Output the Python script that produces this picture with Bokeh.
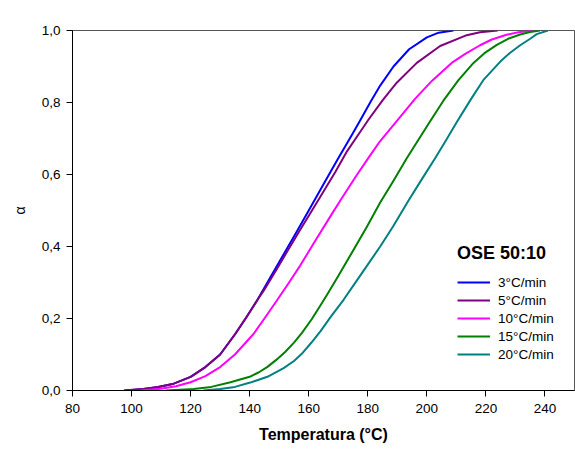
from bokeh.plotting import figure
from bokeh.models import Legend, LegendItem, FixedTicker, Range1d
from bokeh.embed import file_html
from bokeh.resources import INLINE

FONT = "Liberation Sans"

# Conversion degree (alpha) versus temperature for each heating rate
rate_labels = ["3°C/min", "5°C/min", "10°C/min", "15°C/min", "20°C/min"]
rate_colors = ["#0000ff", "#800080", "#ff00ff", "#008000", "#008080"]

temp_3 = [97.5, 104, 109, 114.3, 120, 125, 130, 135.1, 139, 142.5, 146, 150, 155, 160,
          165, 170, 174.6, 177.4, 181, 184.2, 188.7, 194, 200, 204, 209]
alpha_3 = [0.0, 0.004, 0.01, 0.019, 0.038, 0.065, 0.1, 0.157, 0.205, 0.25, 0.3, 0.357, 0.428, 0.5,
           0.573, 0.645, 0.71, 0.75, 0.803, 0.847, 0.9, 0.948, 0.981, 0.994, 1.0]

temp_5 = [97.5, 104, 109, 114.3, 120, 125, 130, 135.1, 139, 142.5, 144.8, 149, 153, 157, 161.1,
          165, 169, 173, 177.4, 180.2, 185, 189.8, 196.6, 204.5, 213.5, 218, 224]
alpha_5 = [0.0, 0.004, 0.01, 0.019, 0.038, 0.065, 0.1, 0.157, 0.205, 0.25, 0.278, 0.335, 0.39, 0.445, 0.5,
           0.553, 0.607, 0.665, 0.718, 0.752, 0.806, 0.855, 0.91, 0.957, 0.987, 0.995, 1.0]

temp_10 = [103, 109.8, 115, 120, 125, 130, 135, 141.3, 145, 149.2, 153, 157.1, 162, 167.8, 170.7,
           176, 180.8, 184.2, 190.7, 196, 201.7, 208.4, 213, 218, 222, 227, 231, 236]
alpha_10 = [0.0, 0.005, 0.012, 0.023, 0.04, 0.065, 0.1, 0.157, 0.2, 0.25, 0.296, 0.347, 0.413, 0.49, 0.528,
            0.595, 0.653, 0.693, 0.757, 0.81, 0.86, 0.91, 0.935, 0.959, 0.975, 0.988, 0.995, 1.0]

temp_15 = [111.5, 121, 127, 133.5, 140, 143, 145.9, 149, 152, 155, 157.7, 161, 164.1, 166.2, 170, 174,
           179.7, 184.2, 188.5, 193.2, 200.9, 205.6, 210.7, 215.8, 219.5, 223.7, 227.5, 231.6, 235, 238.3]
alpha_15 = [0.0, 0.004, 0.01, 0.023, 0.038, 0.05, 0.065, 0.085, 0.107, 0.133, 0.16, 0.198, 0.238, 0.266,
            0.318, 0.374, 0.455, 0.522, 0.58, 0.645, 0.745, 0.805, 0.862, 0.91, 0.937, 0.96, 0.977,
            0.989, 0.996, 1.0]

temp_20 = [124.3, 130, 135, 140.2, 146, 151.5, 155, 158, 161, 164, 167.5, 171.8, 175.5, 179.7, 184.2,
           188.5, 193.8, 198, 202.8, 206.5, 210.1, 215, 219.1, 224.8, 228, 231.6, 235, 237.2, 241]
alpha_20 = [0.0, 0.004, 0.01, 0.022, 0.038, 0.062, 0.082, 0.105, 0.134, 0.165, 0.205, 0.252, 0.296,
            0.346, 0.4, 0.455, 0.528, 0.583, 0.645, 0.695, 0.745, 0.81, 0.862, 0.913, 0.937, 0.959,
            0.977, 0.99, 1.0]

series_temp = [temp_3, temp_5, temp_10, temp_15, temp_20]
series_alpha = [alpha_3, alpha_5, alpha_10, alpha_15, alpha_20]

x_ticks = [80, 100, 120, 140, 160, 180, 200, 220, 240]
y_ticks = [0.0, 0.2, 0.4, 0.6, 0.8, 1.0]
y_tick_labels = ["0,0", "0,2", "0,4", "0,6", "0,8", "1,0"]

p = figure(width=575, height=452, output_backend="svg", toolbar_location=None,
           x_range=Range1d(80, 250), y_range=Range1d(0, 1.0),
           min_border_left=72, min_border_right=1, min_border_top=30, min_border_bottom=62)

p.background_fill_color = "white"
p.border_fill_color = "white"
p.outline_line_color = "#555555"
p.outline_line_width = 1
p.grid.visible = False

items = []
for t, a, lab, col in zip(series_temp, series_alpha, rate_labels, rate_colors):
    r = p.line(t, a, line_color=col, line_width=2, line_join="round")
    items.append(LegendItem(label=lab, renderers=[r]))

for ax in (p.xaxis[0], p.yaxis[0]):
    ax.axis_line_color = "black"
    ax.major_tick_line_color = "black"
    ax.major_tick_out = 6
    ax.major_tick_in = 0
    ax.minor_tick_line_color = None
    ax.major_label_text_font = FONT
    ax.major_label_text_font_size = "13.5px"
    ax.major_label_text_color = "black"
    ax.axis_label_text_font = FONT
    ax.axis_label_text_color = "black"

p.xaxis.ticker = FixedTicker(ticks=x_ticks)
p.xaxis.major_label_standoff = 7
p.xaxis.axis_label = "Temperatura (°C)"
p.xaxis.axis_label_text_font_size = "16px"
p.xaxis.axis_label_text_font_style = "bold"
p.xaxis.axis_label_standoff = 10

p.yaxis.ticker = FixedTicker(ticks=y_ticks)
p.yaxis.major_label_overrides = {v: s for v, s in zip(y_ticks, y_tick_labels)}
p.yaxis.major_label_standoff = 6
p.yaxis.axis_label = "α"
p.yaxis.axis_label_text_font_size = "14px"
p.yaxis.axis_label_text_font_style = "normal"
p.yaxis.axis_label_standoff = 11

legend = Legend(items=items, location=(385, 28), title="OSE 50:10",
                title_text_font=FONT, title_text_font_size="18px",
                title_text_font_style="bold", title_text_color="black", title_standoff=10,
                label_text_font=FONT, label_text_font_size="13.5px", label_text_color="black",
                glyph_width=33, glyph_height=16, label_height=16,
                label_standoff=8, spacing=2, padding=0, margin=0,
                border_line_color=None, background_fill_alpha=0)
p.add_layout(legend, "center")

open("out.html", "w").write(file_html(p, INLINE))
